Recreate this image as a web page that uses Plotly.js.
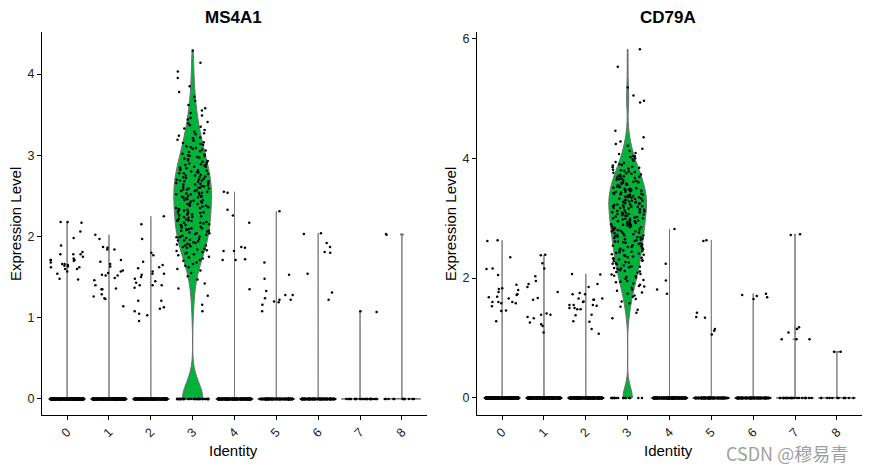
<!DOCTYPE html>
<html><head><meta charset="utf-8">
<script src="https://cdn.plot.ly/plotly-3.0.1.min.js"></script>
<style>html,body{margin:0;padding:0;background:#fff}#chart{width:869px;height:472px}</style>
</head><body><div id="chart"></div>
<script>
// ---------------- data ----------------
const clusters = ['0','1','2','3','4','5','6','7','8'];
const genes = ['MS4A1', 'CD79A'];

// MS4A1: non-zero expression values per cluster
const ms4a1_c0 = [2.18,2.18,2.17,2.06,1.98,1.89,1.81,1.78,1.78,1.78,1.75,1.73,1.71,1.71,1.71,1.70,1.68,1.66,1.66,1.65,1.64,1.63,1.62,1.62,1.60,1.60,1.57,1.54,1.48,1.47];
const ms4a1_c1 = [2.02,1.97,1.87,1.86,1.84,1.84,1.71,1.69,1.66,1.63,1.58,1.57,1.55,1.53,1.52,1.52,1.49,1.46,1.40,1.36,1.35,1.35,1.29,1.26,1.24,1.23,1.14];
const ms4a1_c2 = [2.25,2.15,1.97,1.80,1.77,1.69,1.65,1.62,1.61,1.57,1.54,1.54,1.53,1.50,1.48,1.45,1.43,1.40,1.40,1.40,1.37,1.21,1.21,1.13,1.11,1.08,1.05,1.03,0.96];
const ms4a1_c3 = [1.08,1.16,1.27,1.36,1.42,1.47,1.51,1.55,1.58,
  1.60,1.62,1.64,1.66,1.68,1.70,1.71,1.73,1.74,1.75,1.77,1.78,1.79,
  1.80,1.81,1.82,1.83,1.84,1.85,1.86,1.87,1.88,1.89,1.89,
  1.90,1.90,1.91,1.92,1.93,1.94,1.95,1.95,1.96,1.97,1.98,1.99,1.99,
  2.00,2.00,2.01,2.02,2.03,2.04,2.04,2.05,2.06,2.07,2.07,2.08,2.09,2.09,
  2.10,2.10,2.11,2.12,2.13,2.14,2.14,2.15,2.16,2.17,2.17,2.18,2.19,2.19,
  2.20,2.20,2.21,2.22,2.23,2.24,2.24,2.25,2.26,2.27,2.27,2.28,2.29,2.29,
  2.30,2.30,2.31,2.32,2.33,2.33,2.34,2.35,2.35,2.36,2.37,2.38,2.38,2.39,2.39,
  2.40,2.40,2.41,2.42,2.43,2.43,2.44,2.45,2.45,2.46,2.47,2.48,2.48,2.49,2.49,
  2.50,2.50,2.51,2.52,2.52,2.53,2.54,2.54,2.55,2.56,2.56,2.57,2.58,2.58,2.59,2.59,
  2.60,2.60,2.61,2.62,2.62,2.63,2.64,2.64,2.65,2.66,2.66,2.67,2.68,2.68,2.69,2.69,
  2.70,2.70,2.71,2.72,2.73,2.73,2.74,2.75,2.75,2.76,2.77,2.78,2.78,2.79,2.79,
  2.80,2.81,2.82,2.82,2.83,2.84,2.85,2.86,2.86,2.87,2.88,2.89,2.89,
  2.90,2.91,2.92,2.93,2.94,2.95,2.96,2.97,2.98,2.99,2.99,
  3.00,3.01,3.02,3.04,3.05,3.06,3.07,3.08,3.09,
  3.10,3.11,3.13,3.14,3.15,3.16,3.18,3.19,
  3.21,3.22,3.24,3.26,3.27,3.29,
  3.31,3.33,3.35,3.37,3.39,
  3.41,3.44,3.46,3.49,
  3.52,3.55,3.58,3.62,3.67,3.72,3.78,3.85,3.95,4.03,4.14,4.29];
const ms4a1_c4 = [2.55,2.54,2.33,2.26,2.17,1.87,1.86,1.82,1.82,1.72,1.71,1.71,1.35];
const ms4a1_c5 = [2.31,1.68,1.53,1.48,1.33,1.28,1.28,1.24,1.22,1.22,1.20,1.19,1.16,1.08];
const ms4a1_c6 = [2.04,2.03,1.92,1.87,1.81,1.80,1.54,1.31,1.22];
const ms4a1_c7 = [1.08,1.07];
const ms4a1_c8 = [2.03,2.02];
// number of cells with zero expression per cluster (estimated)
const ms4a1_zeros = [450,400,350,41,300,170,160,25,12];

// CD79A: non-zero expression values per cluster
const cd79a_c0 = [2.63,2.62,2.35,2.16,2.15,2.05,1.89,1.83,1.82,1.80,1.77,1.73,1.72,1.69,1.68,1.66,1.60,1.60,1.60,1.58,1.58,1.53,1.46,1.45,1.28];
const cd79a_c1 = [2.39,2.38,2.25,2.16,2.03,1.95,1.90,1.85,1.77,1.67,1.64,1.41,1.39,1.39,1.35,1.33,1.26,1.23,1.20,1.09];
const cd79a_c2 = [2.07,2.06,1.90,1.85,1.75,1.73,1.73,1.66,1.66,1.64,1.64,1.61,1.60,1.55,1.55,1.55,1.54,1.50,1.50,1.48,1.48,1.39,1.38,1.28,1.27,1.15,1.07];
const cd79a_c3 = [1.33,1.42,1.47,1.52,1.58,1.61,1.65,1.69,1.71,1.74,1.76,1.79,1.81,1.84,1.86,1.87,1.89,
  1.91,1.93,1.94,1.95,1.97,1.99,2.01,2.02,2.03,2.04,2.06,2.07,2.09,
  2.10,2.11,2.12,2.13,2.15,2.16,2.17,2.18,2.19,2.20,2.21,2.23,2.24,2.25,2.26,2.27,2.28,2.29,
  2.30,2.31,2.32,2.33,2.34,2.35,2.36,2.37,2.38,2.39,
  2.40,2.41,2.42,2.43,2.44,2.45,2.46,2.47,2.48,2.49,
  2.50,2.51,2.52,2.52,2.53,2.54,2.55,2.56,2.57,2.58,2.59,
  2.60,2.61,2.61,2.62,2.63,2.64,2.65,2.66,2.67,2.68,2.68,2.69,
  2.70,2.71,2.71,2.72,2.73,2.74,2.75,2.76,2.77,2.78,2.78,2.79,
  2.80,2.80,2.81,2.82,2.83,2.84,2.85,2.85,2.86,2.87,2.88,2.89,2.89,
  2.90,2.90,2.91,2.92,2.93,2.94,2.95,2.95,2.96,2.97,2.98,2.99,2.99,
  3.00,3.00,3.01,3.02,3.03,3.04,3.04,3.05,3.06,3.07,3.07,3.08,3.09,3.09,
  3.10,3.10,3.11,3.12,3.13,3.14,3.14,3.15,3.16,3.17,3.17,3.18,3.19,3.19,
  3.20,3.20,3.21,3.22,3.23,3.23,3.24,3.25,3.25,3.26,3.27,3.27,3.28,3.29,3.29,
  3.30,3.30,3.31,3.32,3.33,3.33,3.34,3.35,3.35,3.36,3.37,3.37,3.38,3.39,3.39,
  3.40,3.41,3.41,3.42,3.43,3.44,3.44,3.45,3.46,3.47,3.47,3.48,3.49,3.49,
  3.50,3.51,3.52,3.52,3.53,3.54,3.55,3.56,3.56,3.57,3.58,3.59,3.59,
  3.60,3.61,3.62,3.63,3.64,3.65,3.66,3.67,3.68,3.69,3.69,
  3.70,3.71,3.72,3.73,3.74,3.75,3.76,3.77,3.78,3.79,
  3.80,3.81,3.83,3.84,3.85,3.86,3.88,3.89,
  3.90,3.92,3.94,3.96,3.98,4.00,4.02,4.04,4.04,4.07,4.09,
  4.12,4.16,4.21,4.24,4.28,4.35,4.46,
  4.93,4.96,5.05,5.18,5.53,5.82];
const cd79a_c4 = [2.82,2.24,1.96,1.81,1.74];
const cd79a_c5 = [2.63,2.62,1.42,1.35,1.34,1.15,1.12,1.06];
const cd79a_c6 = [1.74,1.72,1.70,1.68,1.65];
const cd79a_c7 = [2.73,2.72,1.18,1.15,1.09,0.98,0.98,0.98];
const cd79a_c8 = [0.77,0.77];
const cd79a_zeros = [450,400,350,16,300,170,160,25,12];

// ---------------- drawing ----------------
const GREEN = '#00b23a';
const OUTLINE = '#6e6e6e';
const W = 869, H = 472;

// deterministic PRNG for horizontal jitter only (display), +/-0.4 category width
function mulberry32(a) {
  return function () {
    a |= 0; a = (a + 0x6D2B79F5) | 0;
    let t = Math.imul(a ^ (a >>> 15), 1 | a);
    t = (t + Math.imul(t ^ (t >>> 7), 61 | t)) ^ t;
    return ((t ^ (t >>> 14)) >>> 0) / 4294967296;
  };
}

function panel(valsByCluster, zeros, bwMain, xa, ya, seed) {
  const traces = [];
  const px = [], py = [];
  const rnd = mulberry32(seed);
  valsByCluster.forEach((vals, i) => {
    const ys = new Array(zeros[i]).fill(0).concat(vals);
    traces.push({
      type: 'violin', x0: i, y: ys, xaxis: xa, yaxis: ya,
      width: 0.9, scalemode: 'width', spanmode: 'hard',
      bandwidth: i === 3 ? bwMain : 0.003,
      points: false, box: {visible: false}, meanline: {visible: false},
      fillcolor: GREEN, line: {color: OUTLINE, width: 1},
      hoverinfo: 'skip', showlegend: false
    });
    ys.forEach((y) => { px.push(i + (rnd() - 0.5) * 0.8); py.push(y); });
  });
  traces.push({
    type: 'scatter', mode: 'markers', x: px, y: py, xaxis: xa, yaxis: ya,
    marker: {color: '#000', size: 2.5, line: {width: 0}},
    hoverinfo: 'skip', showlegend: false
  });
  return traces;
}

const data = [].concat(
  panel([ms4a1_c0, ms4a1_c1, ms4a1_c2, ms4a1_c3, ms4a1_c4, ms4a1_c5, ms4a1_c6, ms4a1_c7, ms4a1_c8], ms4a1_zeros, 0.2, 'x', 'y', 12345),
  panel([cd79a_c0, cd79a_c1, cd79a_c2, cd79a_c3, cd79a_c4, cd79a_c5, cd79a_c6, cd79a_c7, cd79a_c8], cd79a_zeros, 0.18, 'x2', 'y2', 67890)
);

const FONT = 'Liberation Sans, Arial, sans-serif';
function xAxis(domain, anchor) {
  return {
    domain: domain, anchor: anchor, type: 'linear', range: [-0.6, 8.6],
    tickvals: clusters.map((c, i) => i), ticktext: clusters, tickangle: -45,
    ticks: 'outside', ticklen: 4, tickwidth: 1, tickcolor: '#000',
    showline: true, linecolor: '#000', linewidth: 1,
    showgrid: false, zeroline: false, fixedrange: true,
    tickfont: {family: FONT, size: 12.5, color: '#222'}
  };
}
function yAxis(range, dtick, anchor) {
  return {
    domain: [1 - 415 / H, 1 - 32 / H], anchor: anchor, range: range, dtick: dtick, tick0: 0,
    ticks: 'outside', ticklen: 4, tickwidth: 1, tickcolor: '#000',
    showline: true, linecolor: '#000', linewidth: 1,
    showgrid: false, zeroline: false, fixedrange: true,
    tickfont: {family: FONT, size: 12.5, color: '#222'}
  };
}

function ann(text, px, py, size, extra) {
  return Object.assign({
    text: text, x: px / W, y: 1 - py / H, xref: 'paper', yref: 'paper',
    xanchor: 'center', yanchor: 'middle', showarrow: false,
    font: {family: FONT, size: size, color: '#000'}
  }, extra || {});
}

const layout = {
  width: W, height: H, margin: {l: 0, r: 0, t: 0, b: 0},
  paper_bgcolor: '#fff', plot_bgcolor: '#fff',
  violinmode: 'overlay', showlegend: false,
  font: {family: FONT, color: '#000'},
  xaxis: xAxis([42 / W, 427 / W], 'y'),
  yaxis: yAxis([-0.197, 4.517], 1, 'x'),
  xaxis2: xAxis([477 / W, 862 / W], 'y2'),
  yaxis2: yAxis([-0.285, 6.108], 2, 'x2'),
  annotations: [
    ann('<b>' + genes[0] + '</b>', 234, 17, 17),
    ann('<b>' + genes[1] + '</b>', 668, 17, 17),
    ann('Identity', 234, 450, 15),
    ann('Identity', 668, 450, 15),
    ann('Expression Level', 15, 224, 15, {textangle: -90}),
    ann('Expression Level', 450, 224, 15, {textangle: -90}),
    ann('CSDN @穆易青', 787, 453, 18, {font: {family: 'Noto Sans CJK SC, Liberation Sans, sans-serif', size: 18, color: '#a0a0a0'}})
  ]
};

Plotly.newPlot('chart', data, layout, {staticPlot: true, displayModeBar: false});
</script>
</body></html>
